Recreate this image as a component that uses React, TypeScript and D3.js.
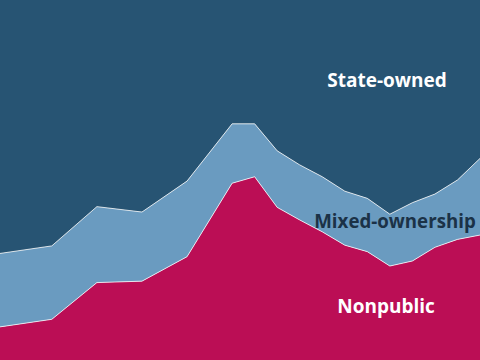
import * as d3 from "d3";
import { useEffect, useRef } from "react";

// decimal years along the x axis (first point sits a little before 1996)
const years = [
  1995.7, 1998, 2000, 2002, 2004, 2006, 2007, 2008, 2009, 2010, 2011, 2012,
  2013, 2014, 2015, 2016, 2017,
];

// shares, percent
const nonpublic = [
  9.2, 11.3, 21.5, 21.9, 28.7, 49.1, 50.9, 42.4, 38.9, 35.6, 31.9, 30.1, 26.1,
  27.5, 31.3, 33.5, 34.7,
];
const mixed = [
  20.4, 20.4, 21.1, 19.2, 21.0, 16.5, 14.7, 15.7, 15.3, 15.3, 15.0, 14.8, 14.4,
  16.2, 14.8, 16.5, 21.3,
];
const stateOwned = nonpublic.map((v, i) => 100 - v - mixed[i]);

const keys = ["nonpublic", "mixed", "stateOwned"];
const colors = { nonpublic: "#bb0e55", mixed: "#6a9bc0", stateOwned: "#275473" };

const labels = [
  { text: "State-owned", x: 387, y: 87, fill: "#fff", size: 19 },
  { text: "Mixed-ownership", x: 395, y: 228, fill: "#1b3247", size: 18.7 },
  { text: "Nonpublic", x: 386, y: 313, fill: "#fff", size: 19 },
];

const App = () => {
  const ref = useRef(null);
  const width = 480;
  const height = 360;

  useEffect(() => {
    const svg = d3.select(ref.current);
    svg.selectAll("*").remove();

    const rows = years.map((year, i) => ({
      year,
      nonpublic: nonpublic[i],
      mixed: mixed[i],
      stateOwned: stateOwned[i],
    }));

    const series = d3.stack().keys(keys)(rows);

    const x = d3
      .scaleLinear()
      .domain(d3.extent(years))
      .range([0, width]);
    const y = d3.scaleLinear().domain([0, 100]).range([height, 0]);

    const area = d3
      .area()
      .x((d) => x(d.data.year))
      .y0((d) => y(d[0]))
      .y1((d) => y(d[1]));

    svg
      .append("g")
      .selectAll("path")
      .data(series)
      .join("path")
      .attr("fill", (d) => colors[d.key])
      .attr("d", area);

    // thin white boundaries between layers
    const line = d3
      .line()
      .x((d) => x(d.data.year))
      .y((d) => y(d[1]));

    svg
      .append("g")
      .selectAll("path")
      .data(series.slice(0, 2))
      .join("path")
      .attr("fill", "none")
      .attr("stroke", "#fff")
      .attr("stroke-opacity", 0.75)
      .attr("stroke-width", 1)
      .attr("d", line);

    svg
      .append("g")
      .selectAll("text")
      .data(labels)
      .join("text")
      .attr("x", (d) => d.x)
      .attr("y", (d) => d.y)
      .attr("text-anchor", "middle")
      .attr("fill", (d) => d.fill)
      .style("font-family", "'Open Sans', sans-serif")
      .style("font-weight", 700)
      .style("font-size", (d) => `${d.size}px`)
      .text((d) => d.text);
  }, []);

  return (
    <svg
      ref={ref}
      width={width}
      height={height}
      style={{ position: "absolute", left: 0, top: 0, display: "block" }}
    />
  );
};

export default App;
